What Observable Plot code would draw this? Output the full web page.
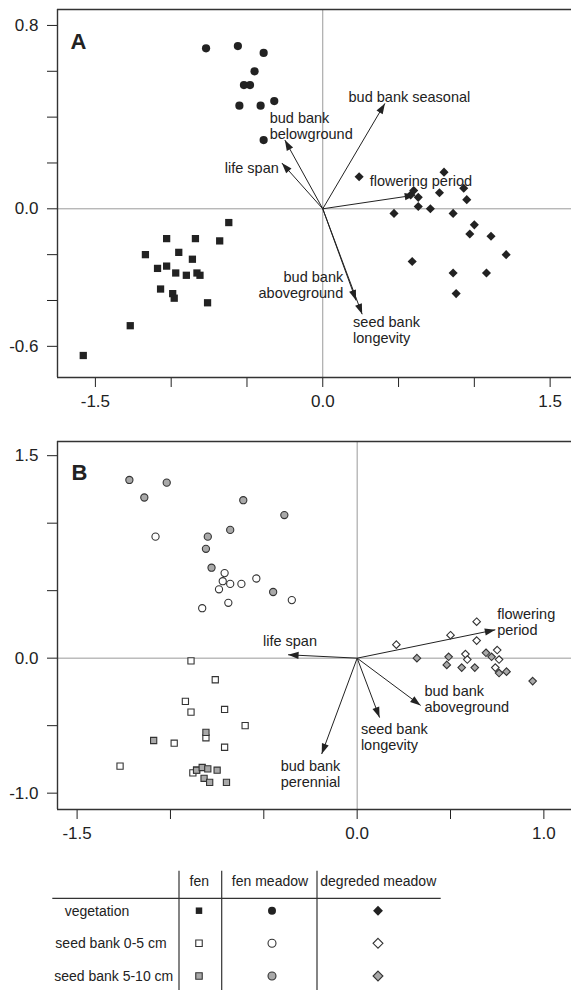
<!DOCTYPE html>
<html><head><meta charset="utf-8">
<script src="https://cdn.jsdelivr.net/npm/d3@7"></script>
<script src="https://cdn.jsdelivr.net/npm/@observablehq/plot@0.6"></script>
<style>
body{margin:0;background:#fff;}
#wrap{width:571px;}
#wrap svg{display:block;}
</style></head><body><div id="wrap"></div>
<script>
// ---------- Panel A: vegetation ----------
const fenVegX = [-0.62,-1.03,-0.84,-0.68,-1.17,-0.95,-0.86,-1.09,-1.03,-0.97,-0.90,-0.83,-0.81,-1.07,-0.99,-0.98,-0.76,-1.27,-1.58];
const fenVegY = [-0.06,-0.13,-0.13,-0.14,-0.20,-0.19,-0.22,-0.26,-0.25,-0.28,-0.29,-0.28,-0.29,-0.35,-0.37,-0.39,-0.41,-0.51,-0.64];
const meadowVegX = [-0.77,-0.56,-0.39,-0.45,-0.52,-0.48,-0.55,-0.41,-0.32,-0.39];
const meadowVegY = [0.70,0.71,0.68,0.60,0.54,0.54,0.45,0.45,0.47,0.30];
const degVegX = [0.24,0.80,0.93,0.58,0.60,0.63,0.77,0.95,0.63,0.71,0.47,0.86,1.00,0.97,1.11,1.21,0.59,0.86,1.08,0.88];
const degVegY = [0.14,0.16,0.09,0.06,0.08,0.05,0.07,0.04,0.01,0.00,-0.02,-0.02,-0.07,-0.11,-0.12,-0.20,-0.23,-0.28,-0.28,-0.37];

const traitsA = ["bud bank\nbelowground","life span","bud bank seasonal","flowering period","bud bank\naboveground","seed bank\nlongevity"];
const arrowAX = [-0.25,-0.27,0.41,0.61,0.22,0.26];
const arrowAY = [0.30,0.20,0.46,0.06,-0.40,-0.46];
const labelAX = [-0.35,-0.29,0.17,0.31,0.135,0.20];
const labelAY = [0.36,0.18,0.49,0.12,-0.33,-0.53];
const anchorA = ["start","end","start","start","end","start"];

// ---------- Panel B: seed bank ----------
const fen05X = [-0.89,-0.76,-0.92,-0.89,-0.71,-0.60,-0.81,-0.98,-0.71,-1.27,-0.88,-0.86];
const fen05Y = [-0.02,-0.16,-0.32,-0.40,-0.38,-0.50,-0.59,-0.63,-0.66,-0.80,-0.85,-0.83];
const fen510X = [-1.09,-0.81,-0.86,-0.83,-0.80,-0.75,-0.82,-0.79,-0.70];
const fen510Y = [-0.61,-0.55,-0.83,-0.81,-0.82,-0.83,-0.89,-0.92,-0.92];
const meadow05X = [-1.08,-0.71,-0.72,-0.68,-0.62,-0.54,-0.74,-0.69,-0.83,-0.35];
const meadow05Y = [0.90,0.63,0.57,0.55,0.55,0.59,0.51,0.41,0.37,0.43];
const meadow510X = [-1.22,-1.02,-1.14,-0.61,-0.39,-0.68,-0.80,-0.81,-0.78,-0.45];
const meadow510Y = [1.32,1.30,1.19,1.17,1.06,0.95,0.90,0.81,0.67,0.49];
const deg05X = [0.64,0.50,0.21,0.64,0.75,0.58,0.59,0.76,0.74];
const deg05Y = [0.27,0.17,0.10,0.13,0.06,0.03,-0.01,-0.01,-0.07];
const deg510X = [0.32,0.49,0.48,0.56,0.63,0.69,0.72,0.76,0.80,0.94];
const deg510Y = [0.00,0.01,-0.05,-0.07,-0.07,0.04,0.01,-0.11,-0.10,-0.17];

const traitsB = ["flowering\nperiod","life span","bud bank\naboveground","seed bank\nlongevity","bud bank\nperennial"];
const arrowBX = [0.74,-0.37,0.34,0.12,-0.19];
const arrowBY = [0.21,0.025,-0.35,-0.44,-0.71];
const labelBX = [0.75,-0.36,0.36,0.02,-0.09];
const labelBY = [0.27,0.13,-0.305,-0.58,-0.855];
const anchorB = ["start","middle","start","start","end"];

// ---------- axes ----------
const xTicksA = [-1.5,-1,-0.5,0,0.5,1,1.5], xLabelsA = [-1.5,0,1.5];
const yTicksA = [-0.6,-0.4,-0.2,0,0.2,0.4,0.6,0.8], yLabelsA = [-0.6,0,0.8];
const xTicksB = [-1.5,-1,-0.5,0,0.5,1], xLabelsB = [-1.5,0,1];
const yTicksB = [-1,-0.5,0,0.5,1,1.5], yLabelsB = [-1,0,1.5];

// ---------- legend ----------
const habitats = ["fen","fen meadow","degreded meadow"];
const layers = ["vegetation","seed bank 0-5 cm","seed bank 5-10 cm"];

const FONT = "'Liberation Sans', Arial, Helvetica, sans-serif";
const INK = "#222";
const GREY = "#a9a9a9";
const fmt = v => (v < 0 ? "-" : "") + Math.abs(v).toFixed(1);
const pts = (xs, ys) => xs.map((x, i) => ({x, y: ys[i]}));

function frameMarks(xd, yd) {
  return [
    Plot.ruleX([0], {stroke: "#9a9a9a", strokeWidth: 1}),
    Plot.ruleY([0], {stroke: "#9a9a9a", strokeWidth: 1}),
    Plot.ruleY([yd[1]], {stroke: "#333", strokeWidth: 1.4}),
    Plot.ruleY([yd[0]], {stroke: "#333", strokeWidth: 1.4}),
    Plot.ruleX([xd[0]], {stroke: "#333", strokeWidth: 1.4})
  ];
}

function arrowMarks(names, ax, ay, lx, ly, anchors) {
  const idx = d3.range(names.length);
  const marks = [
    Plot.link(idx, {x1: () => 0, y1: () => 0, x2: i => ax[i], y2: i => ay[i], stroke: INK, strokeWidth: 1, markerEnd: "arrow"})
  ];
  for (const a of ["start", "middle", "end"]) {
    marks.push(Plot.text(idx, {filter: i => anchors[i] === a, x: i => lx[i], y: i => ly[i], text: i => names[i],
      textAnchor: a, fontSize: 14.5, lineHeight: 1.1, fill: INK}));
  }
  return marks;
}

function fixMarkers(svg) {
  svg.querySelectorAll("marker").forEach(m => {
    m.setAttribute("viewBox", "-11 -5 12 10");
    m.setAttribute("markerWidth", 12);
    m.setAttribute("markerHeight", 10);
    const p = m.querySelector("path");
    if (p) {
      p.setAttribute("d", "M-10.5,-3.6L0,0L-10.5,3.6Z");
      p.setAttribute("fill", INK);
      p.setAttribute("stroke", "none");
    }
  });
}

function panel(o) {
  const svg = Plot.plot({
    width: 571, height: o.height,
    marginLeft: 57, marginRight: 0, marginTop: o.marginTop, marginBottom: o.marginBottom,
    style: {fontFamily: FONT, fontSize: "17px", color: INK, background: "white", overflow: "visible"},
    x: {domain: o.xd, ticks: o.xt, tickFormat: v => o.xl.includes(v) ? fmt(v) : "", tickSize: 10, tickPadding: 7, label: null},
    y: {domain: o.yd, ticks: o.yt, tickFormat: v => o.yl.includes(v) ? fmt(v) : "", tickSize: 10, tickPadding: 9, label: null},
    marks: [
      ...frameMarks(o.xd, o.yd),
      ...o.marks,
      Plot.text([o.letter], {frameAnchor: "top-left", dx: o.ldx, dy: o.ldy, text: d => d, fontSize: 22, fontWeight: "bold", fill: INK, textAnchor: "start"})
    ]
  });
  fixMarkers(svg);
  document.getElementById("wrap").append(svg);
}

// Panel A
panel({
  height: 420, marginTop: 9, marginBottom: 43,
  xd: [-1.750, 1.641], yd: [-0.736, 0.8696],
  xt: xTicksA, xl: xLabelsA, yt: yTicksA, yl: yLabelsA,
  letter: "A", ldx: 13, ldy: 24,
  marks: [
    ...arrowMarks(traitsA, arrowAX, arrowAY, labelAX, labelAY, anchorA),
    Plot.dot(pts(fenVegX, fenVegY), {x: "x", y: "y", symbol: "square", r: 4.1, fill: INK, stroke: "none"}),
    Plot.dot(pts(meadowVegX, meadowVegY), {x: "x", y: "y", symbol: "circle", r: 4.1, fill: INK, stroke: "none"}),
    Plot.dot(pts(degVegX, degVegY), {x: "x", y: "y", symbol: "diamond2", r: 4.1, fill: INK, stroke: "none"})
  ]
});

// Panel B
const ptStroke = {stroke: "#333", strokeWidth: 1.1};
panel({
  height: 432, marginTop: 21, marginBottom: 43,
  xd: [-1.605, 1.148], yd: [-1.121, 1.605],
  xt: xTicksB, xl: xLabelsB, yt: yTicksB, yl: yLabelsB,
  letter: "B", ldx: 14, ldy: 23,
  marks: [
    ...arrowMarks(traitsB, arrowBX, arrowBY, labelBX, labelBY, anchorB),
    Plot.dot(pts(fen05X, fen05Y), {x: "x", y: "y", symbol: "square", r: 3.5, fill: "white", ...ptStroke}),
    Plot.dot(pts(fen510X, fen510Y), {x: "x", y: "y", symbol: "square", r: 3.5, fill: GREY, ...ptStroke}),
    Plot.dot(pts(meadow05X, meadow05Y), {x: "x", y: "y", symbol: "circle", r: 3.6, fill: "white", ...ptStroke}),
    Plot.dot(pts(meadow510X, meadow510Y), {x: "x", y: "y", symbol: "circle", r: 3.6, fill: GREY, ...ptStroke}),
    Plot.dot(pts(deg05X, deg05Y), {x: "x", y: "y", symbol: "diamond2", r: 3.4, fill: "white", ...ptStroke}),
    Plot.dot(pts(deg510X, deg510Y), {x: "x", y: "y", symbol: "diamond2", r: 3.4, fill: GREY, ...ptStroke})
  ]
});

// Legend table
(function legend() {
  const svg = d3.select("#wrap").append("svg").attr("width", 571).attr("height", 138)
    .style("font-family", FONT).style("font-size", "14px").style("background", "white");
  const colX = [199, 272, 378];
  const headX = [199.3, 270, 378.3];
  const rowY = [58.7, 91.3, 124];
  const rowLabelX = [97, 111, 113.7];
  [179, 221.7, 317].forEach(x => svg.append("line").attr("x1", x).attr("x2", x).attr("y1", 18.7).attr("y2", 138).attr("stroke", "#333").attr("stroke-width", 1.2));
  svg.append("line").attr("x1", 52.3).attr("x2", 440.7).attr("y1", 46.3).attr("y2", 46.3).attr("stroke", "#333").attr("stroke-width", 1.2);
  habitats.forEach((h, j) => svg.append("text").attr("x", headX[j]).attr("y", 28.7).attr("dy", "0.35em").attr("text-anchor", "middle").attr("fill", INK).text(h));
  layers.forEach((l, i) => svg.append("text").attr("x", rowLabelX[i]).attr("y", rowY[i]).attr("dy", "0.35em").attr("text-anchor", "middle").attr("fill", INK).text(l));
  const syms = [d3.symbolSquare, d3.symbolCircle, d3.symbolDiamond2];
  const sizes = [42, 50, 62];
  const fills = [INK, "white", GREY];
  layers.forEach((l, i) => habitats.forEach((h, j) => {
    svg.append("path").attr("d", d3.symbol(syms[j], sizes[j])())
      .attr("transform", `translate(${colX[j]},${rowY[i]})`)
      .attr("fill", fills[i]).attr("stroke", i === 0 ? "none" : "#333").attr("stroke-width", 1.1);
  }));
})();
</script>
</body></html>
